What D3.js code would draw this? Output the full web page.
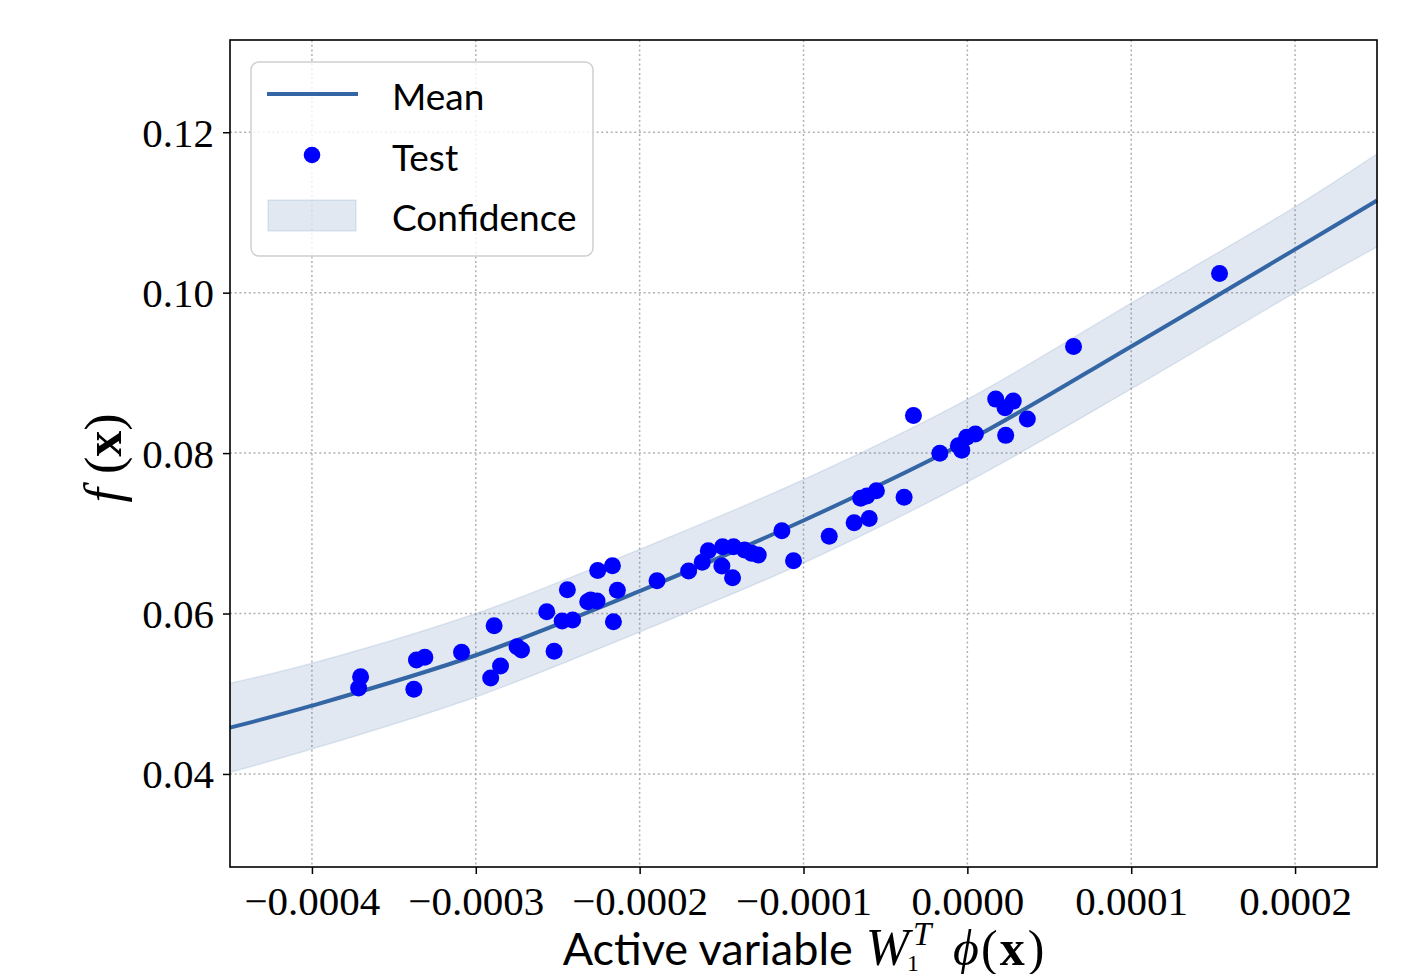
<!DOCTYPE html>
<html>
<head>
<meta charset="utf-8">
<script src="https://cdn.jsdelivr.net/npm/d3@7"></script>
<style>
  html, body { margin: 0; padding: 0; background: #fff; }
</style>
</head>
<body>
<div id="chart"></div>
<script>
// test points (active variable, f(x))
const testX = [
  -0.0003715, -0.0003703, -0.0003378, -0.0003362, -0.0003311, -0.0003087, -0.0002909,
  -0.0002888, -0.0002849, -0.0002748, -0.0002721, -0.0002567, -0.0002522, -0.0002473,
  -0.0002409, -0.0002441, -0.0002317, -0.0002299, -0.000226, -0.0002256, -0.0002166,
  -0.0002136, -0.000216, -0.0001894, -0.0001701, -0.0001618, -0.0001581, -0.0001494,
  -0.0001427, -0.0001498, -0.0001433, -0.000136, -0.0001315, -0.0001276, -0.0001132,
  -0.0001061, -0.0000843, -0.0000691, -0.0000599, -0.0000651, -0.0000613, -0.0000555,
  -0.0000386, -0.0000329, -0.0000168, -0.0000055, -0.0000034, -0.0000004, 0.0000049,
  0.0000173, 0.000023, 0.000028, 0.0000234, 0.0000366, 0.0000648, 0.0001539
];
const testY = [
  0.05072, 0.05212, 0.05055, 0.05421, 0.05454, 0.05517, 0.05196,
  0.05848, 0.05346, 0.05586, 0.05545, 0.06022, 0.05529, 0.05907,
  0.05919, 0.06297, 0.06147, 0.06168, 0.06156, 0.06536, 0.06596,
  0.0629, 0.05898, 0.06409, 0.0653, 0.06638, 0.06783, 0.06832,
  0.06832, 0.06592, 0.06446, 0.06791, 0.0675, 0.06729, 0.07032,
  0.06658, 0.06962, 0.07131, 0.07184, 0.07436, 0.07464, 0.0753,
  0.07449, 0.0847, 0.07998, 0.08093, 0.08037, 0.08199, 0.08237,
  0.08673, 0.08564, 0.08648, 0.08221, 0.08424, 0.0933, 0.10239
];

// mean curve and confidence band, sampled from the figure
const curveX = [-0.00045, -0.0004, -0.0003, -0.0002, -0.0001, 0, 0.0001, 0.0002, 0.00025];
const meanY = [0.04577, 0.04851, 0.0548, 0.0628, 0.0716, 0.0815, 0.0933, 0.1054, 0.1115];
const upperY = [0.0513, 0.0538, 0.06, 0.068, 0.0767, 0.0867, 0.0987, 0.1107, 0.1173];
const lowerY = [0.0402, 0.0431, 0.0496, 0.0577, 0.0663, 0.0764, 0.088, 0.1, 0.1057];

const xTicks = [-0.0004, -0.0003, -0.0002, -0.0001, 0, 0.0001, 0.0002];
const yTicks = [0.04, 0.06, 0.08, 0.1, 0.12];
const legendLabels = ["Mean", "Test", "Confidence"];

const width = 1412, height = 974;
const marginLeft = 230, marginRight = 35, marginTop = 40, marginBottom = 107;
const lineColor = "#3465a4";
const pointColor = "#0000ff";
const serif = "'Liberation Serif', 'Times New Roman', serif";
const sans = "Lato, 'Open Sans', sans-serif";

const x = d3.scaleLinear([-0.00045, 0.00025], [marginLeft, width - marginRight]);
const y = d3.scaleLinear([0.0284, 0.1315], [height - marginBottom, marginTop]);

const svg = d3.select("#chart").append("svg")
  .attr("width", width)
  .attr("height", height)
  .attr("viewBox", [0, 0, width, height]);

// grid
svg.append("g")
  .selectAll("line")
  .data(xTicks)
  .join("line")
  .attr("x1", d => x(d)).attr("x2", d => x(d))
  .attr("y1", marginTop).attr("y2", height - marginBottom)
  .attr("stroke", "#b0b0b0").attr("stroke-width", 1.5)
  .attr("stroke-dasharray", "2,2.7");
svg.append("g")
  .selectAll("line")
  .data(yTicks)
  .join("line")
  .attr("x1", marginLeft).attr("x2", width - marginRight)
  .attr("y1", d => y(d)).attr("y2", d => y(d))
  .attr("stroke", "#b0b0b0").attr("stroke-width", 1.5)
  .attr("stroke-dasharray", "2,2.7");

const plot = svg.append("g");
const curveData = curveX.map((cx, i) => ({x: cx, mean: meanY[i], lo: lowerY[i], hi: upperY[i]}));

// confidence band
plot.append("path")
  .datum(curveData)
  .attr("fill", lineColor)
  .attr("fill-opacity", 0.15)
  .attr("stroke", lineColor)
  .attr("stroke-opacity", 0.12)
  .attr("stroke-width", 1.5)
  .attr("d", d3.area()
    .curve(d3.curveCatmullRom)
    .x(d => x(d.x))
    .y0(d => y(d.lo))
    .y1(d => y(d.hi)));

// mean
plot.append("path")
  .datum(curveData)
  .attr("fill", "none")
  .attr("stroke", lineColor)
  .attr("stroke-width", 4)
  .attr("d", d3.line()
    .curve(d3.curveCatmullRom)
    .x(d => x(d.x))
    .y(d => y(d.mean)));

// test points
plot.append("g")
  .selectAll("circle")
  .data(testX.map((tx, i) => [tx, testY[i]]))
  .join("circle")
  .attr("cx", d => x(d[0]))
  .attr("cy", d => y(d[1]))
  .attr("r", 8.5)
  .attr("fill", pointColor);

// axes
const xAxis = svg.append("g")
  .attr("transform", `translate(0,${height - marginBottom})`)
  .call(d3.axisBottom(x).tickValues(xTicks).tickFormat(d3.format(".4f")).tickSize(7).tickPadding(12));
const yAxis = svg.append("g")
  .attr("transform", `translate(${marginLeft},0)`)
  .call(d3.axisLeft(y).tickValues(yTicks).tickFormat(d3.format(".2f")).tickSize(7).tickPadding(9));
[xAxis, yAxis].forEach(g => {
  g.select(".domain").remove();
  g.selectAll(".tick line").attr("stroke", "#000").attr("stroke-width", 1.5);
  g.selectAll(".tick text")
    .attr("fill", "#000")
    .attr("font-family", serif)
    .attr("font-size", 41);
});
xAxis.selectAll(".tick text").attr("dy", "0.71em");
yAxis.selectAll(".tick text").attr("dy", "0.34em");

// frame
svg.append("rect")
  .attr("x", marginLeft)
  .attr("y", marginTop)
  .attr("width", width - marginLeft - marginRight)
  .attr("height", height - marginTop - marginBottom)
  .attr("fill", "none")
  .attr("stroke", "#000")
  .attr("stroke-width", 1.6);

// x label: "Active variable W_1^T phi(x)", pieces laid out one after another
const xl = svg.append("g");
let cursor = 0;
function piece(str, opts) {
  const t = xl.append("text")
    .attr("x", cursor + (opts.dx || 0))
    .attr("y", opts.dy || 0)
    .attr("font-family", opts.family || serif)
    .attr("font-size", opts.size || 50)
    .attr("font-style", opts.italic ? "italic" : null)
    .attr("font-weight", opts.bold ? "bold" : null)
    .attr("fill", "#000")
    .text(str);
  cursor += t.node().getComputedTextLength() + (opts.dx || 0);
  return t;
}
piece("Active variable", {family: sans, size: 45});
cursor += 13;
piece("W", {italic: true, size: 52});
xl.append("text").attr("x", cursor + 4).attr("y", -20).attr("font-family", serif)
  .attr("font-size", 33).attr("font-style", "italic").text("T");
xl.append("text").attr("x", cursor - 2).attr("y", 6).attr("font-family", serif)
  .attr("font-size", 24).text("1");
cursor += 44;
piece("\u03d5", {italic: true});
piece("(", {dx: 2});
piece("x", {bold: true, dx: 2});
piece(")", {dx: 3});
xl.attr("transform", `translate(${(marginLeft + width - marginRight) / 2 - cursor / 2},965)`);

// y label f(x)
const yl = svg.append("text")
  .attr("transform", "translate(121,458) rotate(-90)")
  .attr("text-anchor", "middle")
  .attr("font-family", serif)
  .attr("font-size", 52)
  .attr("fill", "#000");
yl.append("tspan").attr("font-style", "italic").text("f");
yl.append("tspan").attr("dx", 14).text("(");
yl.append("tspan").attr("font-weight", "bold").text("x");
yl.append("tspan").text(")");

// legend
const legend = svg.append("g").attr("transform", "translate(251,62)");
legend.append("rect")
  .attr("width", 342).attr("height", 194)
  .attr("rx", 8)
  .attr("fill", "#fff").attr("fill-opacity", 0.8)
  .attr("stroke", "#d0d0d0").attr("stroke-width", 1.5);
legend.append("line")
  .attr("x1", 16).attr("x2", 107).attr("y1", 32).attr("y2", 32)
  .attr("stroke", lineColor).attr("stroke-width", 4);
legend.append("circle")
  .attr("cx", 61).attr("cy", 93).attr("r", 8.3)
  .attr("fill", pointColor);
legend.append("rect")
  .attr("x", 17).attr("y", 138).attr("width", 88).attr("height", 31)
  .attr("fill", lineColor).attr("fill-opacity", 0.15)
  .attr("stroke", lineColor).attr("stroke-opacity", 0.12).attr("stroke-width", 1.5);
legend.selectAll("text.lbl")
  .data(legendLabels)
  .join("text")
  .attr("class", "lbl")
  .attr("x", 141)
  .attr("y", (d, i) => 48 + i * 60.5)
  .attr("font-family", sans)
  .attr("font-size", 37)
  .attr("fill", "#000")
  .text(d => d);
</script>
</body>
</html>
